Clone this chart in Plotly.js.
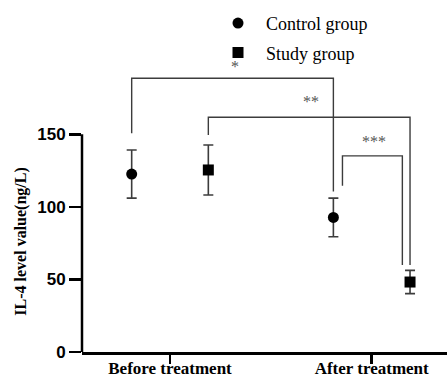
<!DOCTYPE html>
<html>
<head>
<meta charset="utf-8">
<script src="https://cdn.plot.ly/plotly-3.0.1.min.js"></script>
<style>html,body{margin:0;padding:0;background:#fff;}#chart{width:447px;height:378px;}</style>
</head>
<body>
<div id="chart"></div>
<script>
// ---- data ----
var categories = ["Before treatment", "After treatment"];
var controlMean = [122.6, 92.7];
var controlErr  = [16.6, 13.3];
var studyMean   = [125.4, 48.2];
var studyErr    = [17.2, 8.0];
var yTickVals   = [0, 50, 100, 150];
// significance brackets
var bracketLabels = ["*", "**", "***"];
var bracketFrom   = [["control", 0], ["study", 0], ["control", 1]];
var bracketTo     = [["control", 1], ["study", 1], ["study", 1]];
var bracketLeftY  = [150.7, 149.5, 114.6];
var bracketTopY   = [188.6, 161.7, 135.1];
var bracketRightY = [110.5, 59.9, 59.9];
var bracketLabelY = [196.6, 172.5, 144.9];
var bracketInset  = [[0, 0], [0, 0], [0.045, -0.038]];

var groupOffset = {control: -0.19, study: 0.19};
var catIndex = categories.map(function (c, i) { return i + 1; });
function xOf(group, cat) { return catIndex[cat] + groupOffset[group]; }

var lineColor = "#3c3c3c";
var traces = [
  {
    type: "scatter", mode: "markers", name: "Control group", legendgroup: "c",
    x: catIndex.map(function (v, i) { return xOf("control", i); }),
    y: controlMean,
    marker: {symbol: "circle", size: 11, color: "#000"},
    error_y: {type: "data", array: controlErr, visible: true, color: lineColor, thickness: 1.6, width: 5},
    cliponaxis: false
  },
  {
    type: "scatter", mode: "markers", name: "Study group", legendgroup: "s",
    x: catIndex.map(function (v, i) { return xOf("study", i); }),
    y: studyMean,
    marker: {symbol: "square", size: 11, color: "#000"},
    error_y: {type: "data", array: studyErr, visible: true, color: lineColor, thickness: 1.6, width: 5},
    cliponaxis: false
  }
];

var shapes = [
  {type: "line", xref: "paper", yref: "y", x0: 0, x1: 0, y0: 0, y1: yTickVals[yTickVals.length - 1],
   line: {color: "#000", width: 2.5}}
];
var annotations = [];
for (var b = 0; b < bracketLabels.length; b++) {
  var xl = xOf(bracketFrom[b][0], bracketFrom[b][1]) + bracketInset[b][0];
  var xr = xOf(bracketTo[b][0], bracketTo[b][1]) + bracketInset[b][1];
  shapes.push({type: "path", xref: "x", yref: "y",
    path: "M" + xl + "," + bracketLeftY[b] + " L" + xl + "," + bracketTopY[b] +
          " L" + xr + "," + bracketTopY[b] + " L" + xr + "," + bracketRightY[b],
    line: {color: lineColor, width: 1.4}});
  annotations.push({xref: "x", yref: "y", x: (xl + xr) / 2 + 0.01, y: bracketLabelY[b], text: bracketLabels[b],
    showarrow: false, font: {family: "Liberation Serif", size: 16, color: "#555"}});
}
annotations.push({xref: "paper", yref: "y", x: (21 - 82) / 365, xanchor: "center", y: 76, yanchor: "middle",
  text: "IL-4 level value(ng/L)", textangle: -90, showarrow: false,
  font: {family: "Liberation Serif", size: 16, color: "#000", weight: "bold"}});

var layout = {
  width: 447, height: 378,
  margin: {l: 82, r: 0, t: 10, b: 26, pad: 0},
  paper_bgcolor: "#fff", plot_bgcolor: "#fff",
  showlegend: true,
  legend: {x: (238 - 28 - 82) / 365, xanchor: "left", y: 1.015, yanchor: "top",
    font: {family: "Liberation Serif", size: 18, color: "#000"},
    itemwidth: 46, tracegroupgap: 3, bgcolor: "rgba(0,0,0,0)"},
  xaxis: {
    range: [0.5637, 2.3733], tickmode: "array", tickvals: catIndex, ticktext: categories,
    showgrid: false, zeroline: false, showline: true, linecolor: "#000", linewidth: 2.5,
    ticks: "outside", ticklen: 9, tickwidth: 2.5, tickcolor: "#000", ticklabelstandoff: -10,
    tickfont: {family: "Liberation Serif", size: 17, color: "#000", weight: "bold"}
  },
  yaxis: {
    range: [0, 235.6], tickmode: "array", tickvals: yTickVals,
    showgrid: false, zeroline: false, showline: false,
    ticks: "outside", ticklen: 12, tickwidth: 2.5, tickcolor: "#000",
    tickfont: {family: "Liberation Sans", size: 17, color: "#000", weight: "bold"}
  },
  shapes: shapes,
  annotations: annotations
};
Plotly.newPlot("chart", traces, layout, {displayModeBar: false, staticPlot: true});
</script>
</body>
</html>
